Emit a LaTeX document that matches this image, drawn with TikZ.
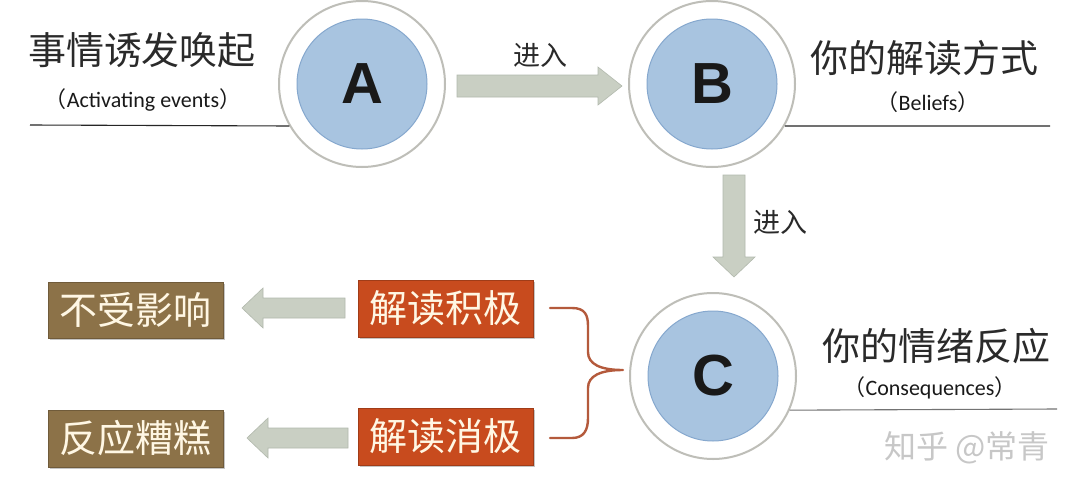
\documentclass[tikz,border=0pt]{standalone}
\usepackage{fontspec}
\setmainfont{Noto Sans CJK SC}
\newfontfamily\latinfont{Carlito}
\newfontfamily\letterfont{Liberation Sans}
\usetikzlibrary{shadows,calc}
\definecolor{ringgray}{HTML}{BEBEB8}
\definecolor{innerblue}{HTML}{A8C4E0}
\definecolor{innerborder}{HTML}{86A8CE}
\definecolor{arrowfill}{HTML}{C9CFC3}
\definecolor{arrowedge}{HTML}{B2B9AD}
\definecolor{brownfill}{HTML}{8C7248}
\definecolor{orangefill}{HTML}{C84B1E}
\definecolor{creamtext}{HTML}{FFF7E4}
\definecolor{bracecol}{HTML}{B45A3C}
\definecolor{titletext}{HTML}{2A2A2A}
\tikzset{
  ring/.style={circle, draw=ringgray, line width=2pt, fill=white, minimum size=166pt, inner sep=0pt},
  core/.style={circle, draw=innerborder, line width=1pt, fill=innerblue, minimum size=130pt, inner sep=0pt,
    font=\letterfont\bfseries\fontsize{58}{58}\selectfont, text=black!90},
  blockarrow/.style={fill=arrowfill, draw=arrowedge, line width=0.6pt},
  boxbase/.style={minimum width=175pt, inner sep=0pt, text=creamtext,
    font=\fontsize{38}{38}\selectfont, drop shadow={shadow xshift=2pt, shadow yshift=-2pt, fill=black!45}},
  brownbox/.style={boxbase, fill=brownfill, draw=brownfill!80!black, line width=0.6pt},
  orangebox/.style={boxbase, fill=orangefill, draw=orangefill!80!black, line width=0.6pt},
  title/.style={text=titletext, font=\fontsize{38}{38}\selectfont, inner sep=0pt},
  subtitle/.style={text=black!90, font=\fontsize{22}{22}\selectfont, inner sep=0pt},
  enter/.style={text=titletext, font=\fontsize{27}{27}\selectfont, inner sep=0pt},
  rule/.style={line width=1.1pt, draw=black!85},
}
\begin{document}
\begin{tikzpicture}[x=1pt,y=-1pt]
\useasboundingbox[fill=white] (0,0) rectangle (1080,493);

% circles
\node[ring] (A) at (362,84) {};
\node[core] (Ai) at (A) {A};
\node[ring] (B) at (712,84) {};
\node[core] (Bi) at (B) {B};
\node[ring] (C) at (713,376) {};
\node[core] (Ci) at (C) {C};

% titles
\node[title] (tA) at (142,50) {事情诱发唤起};
\node[subtitle] (sA) at (143,100) {（{\latinfont Activating events}）};
\node[title] (tB) at (924,58) {你的解读方式};
\node[subtitle] (sB) at (928,102) {（{\latinfont Beliefs}）};
\node[title] (tC) at (936,346) {你的情绪反应};
\node[subtitle] (sC) at (930,388) {（{\latinfont Consequences}）};

% rules
\coordinate (lA) at (30,125);
\coordinate (rB) at (1050,126);
\coordinate (rC) at (1057,409);
\draw[rule] (lA) -- (A.210);
\draw[rule] (B.330) -- (rB);
\draw[rule, draw=black!55] (C.336) -- (rC);

% arrow A -> B
\coordinate (ab1) at (457,86);
\coordinate (ab2) at (622,86);
\path[blockarrow] ($(ab1)+(0,-11)$) -- ($(ab2)+(-24,-11)$) -- ($(ab2)+(-24,-19)$) -- (ab2)
  -- ($(ab2)+(-24,19)$) -- ($(ab2)+(-24,11)$) -- ($(ab1)+(0,11)$) -- cycle;
\node[enter] (e1) at (540,55) {进入};

% arrow B -> C
\coordinate (bc1) at (734,175);
\coordinate (bc2) at (734,277);
\path[blockarrow] ($(bc1)+(-11,0)$) -- ($(bc2)+(-11,-20)$) -- ($(bc2)+(-21,-20)$) -- (bc2)
  -- ($(bc2)+(21,-20)$) -- ($(bc2)+(11,-20)$) -- ($(bc1)+(11,0)$) -- cycle;
\node[enter] (e2) at (780,222) {进入};

% boxes
\node[brownbox, minimum height=56pt] (n1) at (135.5,310) {不受影响};
\node[brownbox, minimum height=57pt] (n2) at (135.5,438.5) {反应糟糕};
\node[orangebox, minimum height=57pt] (p1) at (445.5,308.5) {解读积极};
\node[orangebox, minimum height=57pt] (p2) at (445.5,436.5) {解读消极};

% left arrows
\coordinate (l1s) at (345,308);
\coordinate (l1t) at (242,308);
\path[blockarrow] ($(l1s)+(0,-10)$) -- ($(l1t)+(21,-10)$) -- ($(l1t)+(21,-20)$) -- (l1t)
  -- ($(l1t)+(21,20)$) -- ($(l1t)+(21,10)$) -- ($(l1s)+(0,10)$) -- cycle;
\coordinate (l2s) at (348,438);
\coordinate (l2t) at (247,438);
\path[blockarrow] ($(l2s)+(0,-10)$) -- ($(l2t)+(21,-10)$) -- ($(l2t)+(21,-20)$) -- (l2t)
  -- ($(l2t)+(21,20)$) -- ($(l2t)+(21,10)$) -- ($(l2s)+(0,10)$) -- cycle;

% brace
\coordinate (br1) at (550,308);
\coordinate (br2) at (550,438);
\coordinate (brt) at (623,370);
\draw[bracecol, line width=2.4pt, line cap=round, line join=round]
  (br1) -- (572,308) .. controls (585,308) and (588,315) .. (588,326) -- (588,352)
  .. controls (588,364) and (600,370) .. (brt)
  .. controls (600,370) and (588,376) .. (588,388) -- (588,418)
  .. controls (588,430) and (584,438) .. (572,438) -- (br2);

% watermark
\node[text=black!22, font=\fontsize{32}{32}\selectfont, inner sep=0pt] (wm) at (967,448) {知乎 @常青};
\end{tikzpicture}
\end{document}
